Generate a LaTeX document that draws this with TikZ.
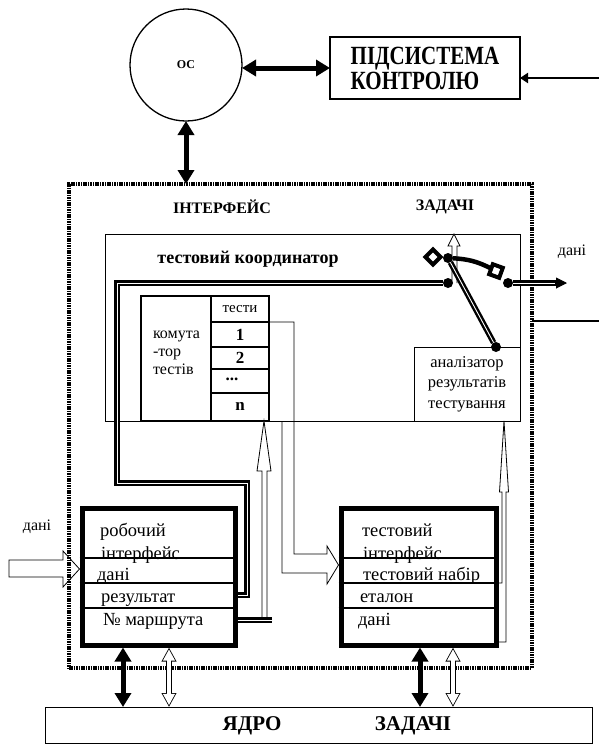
\documentclass[tikz,border=0pt]{standalone}
\usepackage{fontspec}
\setmainfont{Liberation Serif}
\usetikzlibrary{arrows.meta,shapes.geometric}

\begin{document}
\begin{tikzpicture}[
  x=1pt, y=-1pt,
  every node/.style={inner sep=0pt, outer sep=0pt},
  box/.style={draw, line width=1pt},
  frame/.style={draw, line width=5pt, outer sep=2.5pt},
  dotline/.style={draw, line width=3.2pt, dash pattern=on 1.6pt off 0.8pt},
  caps/.style={font=\fontsize{21}{24}\selectfont\bfseries},
  head/.style={font=\fontsize{16}{18}\selectfont\bfseries},
  txt/.style={font=\fontsize{18.5}{20}\selectfont, anchor=base west},
  lbl/.style={font=\fontsize{16}{20}\selectfont},
  num/.style={font=\fontsize{17}{20}\selectfont\bfseries},
  bus/.style={line width=5pt,
    {Triangle[length=14pt,width=16pt]}-{Triangle[length=14pt,width=16pt]}},
  hbus/.style={line width=5.6pt,
    {Triangle[length=14pt,width=14pt]}-{Triangle[length=14pt,width=14pt]}},
  hbusin/.style={white, line width=4pt, shorten <=1.8pt, shorten >=1.8pt,
    {Triangle[length=11.4pt,width=11.4pt]}-{Triangle[length=11.4pt,width=11.4pt]}},
  feed/.style={line width=2.5pt, -{Triangle[length=8pt,width=10pt]}},
  wire/.style={double, line width=2.4pt, double distance=0.9pt},
  hollow/.style={draw, line width=0.8pt},
  dot/.style={circle, fill, minimum size=10pt},
  knob/.style={diamond, draw, fill=white, line width=4pt, minimum size=15pt},
]
\useasboundingbox (0,0) rectangle (599,745);

% ---- top: OS and control subsystem ----
\node (os) [circle, draw, line width=1.3pt, minimum size=112pt,
  font=\fontsize{12}{12}\selectfont\bfseries] at (186,65) {ОС};
\node (ctrl) [box, line width=1.3pt, minimum width=190pt, minimum height=62pt] at (425,68) {};
\node (ctxt) [align=left, font=\fontsize{21}{21}\selectfont\bfseries] at (ctrl)
  {\scalebox{1}[1.25]{ПІДСИСТЕМА}\\[1pt]\scalebox{1}[1.25]{КОНТРОЛЮ}};
\coordinate (ctrlin) at (599,78);

% ---- dotted frame of the task interface ----
\node (frm) [dotline, anchor=north west, minimum width=463pt, minimum height=484pt] at (69,184) {};
\node (hint)  [head] at (222,207) {ІНТЕРФЕЙС};
\node (htask) [head] at (445,207) {ЗАДАЧІ};
\coordinate (sysout) at (599,321);

% ---- test coordinator ----
\node (coord) [box, line width=0.8pt, anchor=north west, minimum width=415pt, minimum height=187pt] at (105,234) {};
\node (ctitle) [font=\fontsize{18}{20}\selectfont\bfseries] at (248,259) {тестовий координатор};

\node (sw)    [box, line width=1.6pt, anchor=north west, minimum width=70pt, minimum height=125pt] at (141,296) {};
\node (tests) [box, line width=1.6pt, anchor=north west, minimum width=58pt, minimum height=125pt] at (211,296) {};
\foreach \y in {322,347,369,393}
  \draw[line width=1.2pt] (tests.west |- 0,\y) -- (tests.east |- 0,\y);
\node (swtxt) [align=left, anchor=west, font=\fontsize{16}{18}\selectfont] at (153,353) {комута\\-тор\\тестів};
\node (t0) [font=\fontsize{15}{16}\selectfont] at (240,309) {тести};
\node (t1) [num] at (240,335) {1};
\node (t2) [num] at (240,358) {2};
\node (t3) [num] at (232,379) {...};
\node (tn) [num] at (240,406) {n};

\node (anal) [box, anchor=north west, minimum width=106pt, minimum height=74pt, align=center,
  font=\fontsize{16.5}{20.5}\selectfont] at (414,347) {аналізатор\\результатів\\тестування};

% ---- interfaces ----
\node (lbox) [frame, anchor=north west, minimum width=153pt, minimum height=137pt] at (79.5,505.5) {};
\node (rbox) [frame, anchor=north west, minimum width=155pt, minimum height=137pt] at (338.5,505.5) {};
\foreach \b in {lbox,rbox}
  \foreach \y in {558,583,608}
    \draw[line width=1.2pt] (\b.west |- 0,\y) -- (\b.east |- 0,\y);

\node (l1) [txt] at (100,536) {робочий};
\node (l2) [txt] at (101,559) {інтерфейс};
\node (l3) [txt] at (97,580) {дані};
\node (l4) [txt] at (101,602) {результат};
\node (l5) [txt] at (103,625) {№ маршрута};

\node (r1) [txt] at (362,536) {тестовий};
\node (r2) [txt] at (363,559) {інтерфейс};
\node (r3) [txt] at (363,580) {тестовий набір};
\node (r4) [txt] at (360,602) {еталон};
\node (r5) [txt] at (358,625) {дані};

\node (datain) [lbl] at (37,527) {дані};
\node (dataout) [lbl] at (572,252) {дані};

% ---- task kernel ----
\node (core) [box, anchor=north west, minimum width=547pt, minimum height=36pt] at (45,707) {};
\node (k1) [caps] at (252,726) {ЯДРО};
\node (k2) [caps] at (413,726) {ЗАДАЧІ};

% ---- hollow arrows ----
\draw[hollow] (9,560) -- (63,560) -- (63,551) -- (lbox.west |- 0,569) -- (63,587) -- (63,577) -- (9,577) -- cycle;
\draw[hollow] (tests.east |- 0,322) -- (294,322) -- (294,554) -- (327,554) -- (327,546)
  -- (rbox.west |- 0,565) -- (327,584) -- (327,573) -- (282,573) -- (282,421);
\draw[hollow, fill=white] (262,620) -- (262,471) -- (257,471) -- (tests.south -| 264,0)
  -- (271,471) -- (267,471) -- (267,620);
\draw[hollow] (rbox.east |- 0,583) -- (502,583) -- (502,492) -- (499.5,492) -- (anal.south -| 504,0)
  -- (508.5,492) -- (506,492) -- (506,642) -- (rbox.east |- 0,642);
\draw[hollow, fill=white] (452,283) -- (452,246) -- (448,246) -- (coord.north -| 454,0)
  -- (460,246) -- (457,246) -- (457,283);

% ---- switch ----
\node (pivot) [dot] at (448,258) {};
\node (cin)   [dot] at (448,283) {};
\node (cout)  [dot] at (508,283) {};
\node (adot)  [dot] at (anal.north -| 496,0) {};
\node (knobL) [knob] at (433,257) {};
\node (knobR) [knob, rotate=25] at (496,271) {};
\coordinate (dout) at (567,283);

\draw[line width=4.5pt] (pivot) to[bend left=12] (knobR);
\draw[wire] (pivot) -- (adot);
\draw[wire] (cin) -- (117,283) -- (117,483) -- (247,483) -- (247,595) -- (lbox.east |- 0,595);
\draw[wire] (lbox.east |- 0,620) -- (272,620);
\draw[wire, shorten >=10pt] (cout) -- (dout);
\draw[line width=1pt, -{Triangle[length=11pt,width=11pt]}] ([xshift=-12pt]dout) -- (dout);

% ---- solid arrows ----
\draw[bus] (ctrl.west) -- (ctrl.west -| os.east);
\draw[feed] (ctrlin) -- (ctrl.east |- ctrlin);
\draw[bus] (os.south) -- (os.south |- frm.north);
\draw[line width=2pt] (sysout) -- (frm.east |- sysout);

\foreach \a/\h in {lbox/123, rbox/420}
  \draw[bus] (\a.south -| \h,0) -- (core.north -| \h,0);
\foreach \a/\h in {lbox/169, rbox/453} {
  \draw[hbus] (\a.south -| \h,0) -- (core.north -| \h,0);
  \draw[hbusin] (\a.south -| \h,0) -- (core.north -| \h,0);
}

\end{tikzpicture}
\end{document}
